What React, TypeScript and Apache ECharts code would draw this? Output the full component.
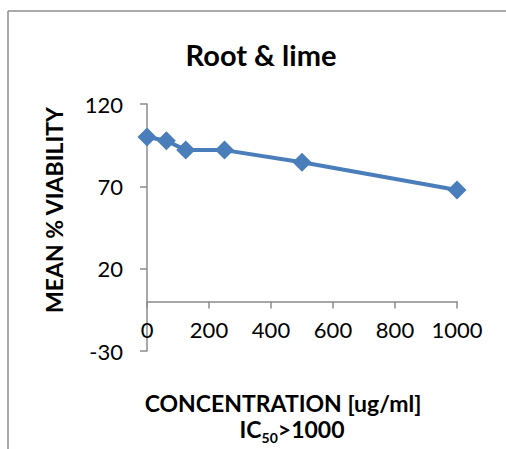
import React, { useEffect, useRef } from "react";
import * as echarts from "echarts";

const concentrations = [0, 62.5, 125, 250, 500, 1000];
const viability = [100, 97.7, 92, 92, 84.6, 67.8];
const yTicks = [-30, 20, 70, 120];
const xTicks = [0, 200, 400, 600, 800, 1000];
const titleText = "Root & lime";
const yName = "MEAN % VIABILITY";
const xName = "CONCENTRATION [ug/ml]";

const FONT = "Lato, 'Open Sans', sans-serif";

export default function App() {
  const ref = useRef<HTMLDivElement>(null);
  useEffect(() => {
    if (!ref.current) return;
    const chart = echarts.init(ref.current, undefined, { renderer: "svg" });
    const gridTop = 104;
    const gridHeight = 247;
    const yMin = yTicks[0];
    const yMax = yTicks[yTicks.length - 1];
    const zeroOffset = -((0 - yMin) / (yMax - yMin)) * gridHeight;
    chart.setOption({
      animation: false,
      backgroundColor: "#ffffff",
      grid: { left: 147, top: gridTop, width: 310, height: gridHeight, containLabel: false },
      xAxis: {
        type: "value",
        min: xTicks[0],
        max: xTicks[xTicks.length - 1],
        interval: 200,
        position: "bottom",
        offset: zeroOffset,
        axisLine: { show: true, onZero: false, lineStyle: { color: "#8c8c8c", width: 1.5 } },
        axisTick: { show: true, length: 7, lineStyle: { color: "#8c8c8c", width: 1.5 } },
        axisLabel: {
          color: "#000",
          fontFamily: FONT,
          fontSize: 22,
          margin: 17,
          formatter: (v: number) => String(v),
        },
        splitLine: { show: false },
      },
      yAxis: {
        type: "value",
        min: yMin,
        max: yMax,
        interval: 50,
        axisLine: { show: true, onZero: false, lineStyle: { color: "#8c8c8c", width: 1.5 } },
        axisTick: { show: true, length: 7, lineStyle: { color: "#8c8c8c", width: 1.5 } },
        axisLabel: { color: "#000", fontFamily: FONT, fontSize: 22, margin: 24 },
        splitLine: { show: false },
      },
      series: [
        {
          type: "line",
          data: concentrations.map((c, i) => [c, viability[i]]),
          symbol: "diamond",
          symbolSize: 19,
          lineStyle: { color: "#4a7ebb", width: 4 },
          itemStyle: { color: "#4a7ebb" },
        },
      ],
      graphic: [
        { type: "line", shape: { x1: 8, y1: 11, x2: 506, y2: 11 }, style: { stroke: "#8c8c8c", lineWidth: 1.5 } },
        { type: "line", shape: { x1: 8, y1: 11, x2: 8, y2: 449 }, style: { stroke: "#8c8c8c", lineWidth: 1.5 } },
        {
          type: "text",
          x: 261,
          y: 54,
          style: {
            text: titleText,
            fontFamily: FONT,
            fontWeight: "bold",
            fontSize: 29,
            fill: "#000",
            align: "center",
            verticalAlign: "middle",
          },
        },
        {
          type: "text",
          x: 54,
          y: 210,
          rotation: Math.PI / 2,
          style: {
            text: yName,
            fontFamily: FONT,
            fontWeight: "bold",
            fontSize: 23,
            fill: "#000",
            align: "center",
            verticalAlign: "middle",
          },
        },
        {
          type: "text",
          x: 283,
          y: 403,
          style: {
            text: xName,
            fontFamily: FONT,
            fontWeight: "bold",
            fontSize: 23,
            fill: "#000",
            align: "center",
            verticalAlign: "middle",
          },
        },
        {
          type: "text",
          x: 292,
          y: 429,
          style: {
            text: "{a|IC}{s|50}{a|>1000}",
            align: "center",
            verticalAlign: "middle",
            rich: {
              a: { fontFamily: FONT, fontWeight: "bold", fontSize: 23, fill: "#000", color: "#000", verticalAlign: "bottom" },
              s: { fontFamily: FONT, fontWeight: "bold", fontSize: 14, fill: "#000", color: "#000", verticalAlign: "bottom", padding: [0, 0, -4, 0] },
            },
          },
        },
      ],
    });
    return () => chart.dispose();
  }, []);
  return (
    <div
      ref={ref}
      style={{ position: "absolute", left: 0, top: 0, width: 506, height: 449 }}
    />
  );
}
